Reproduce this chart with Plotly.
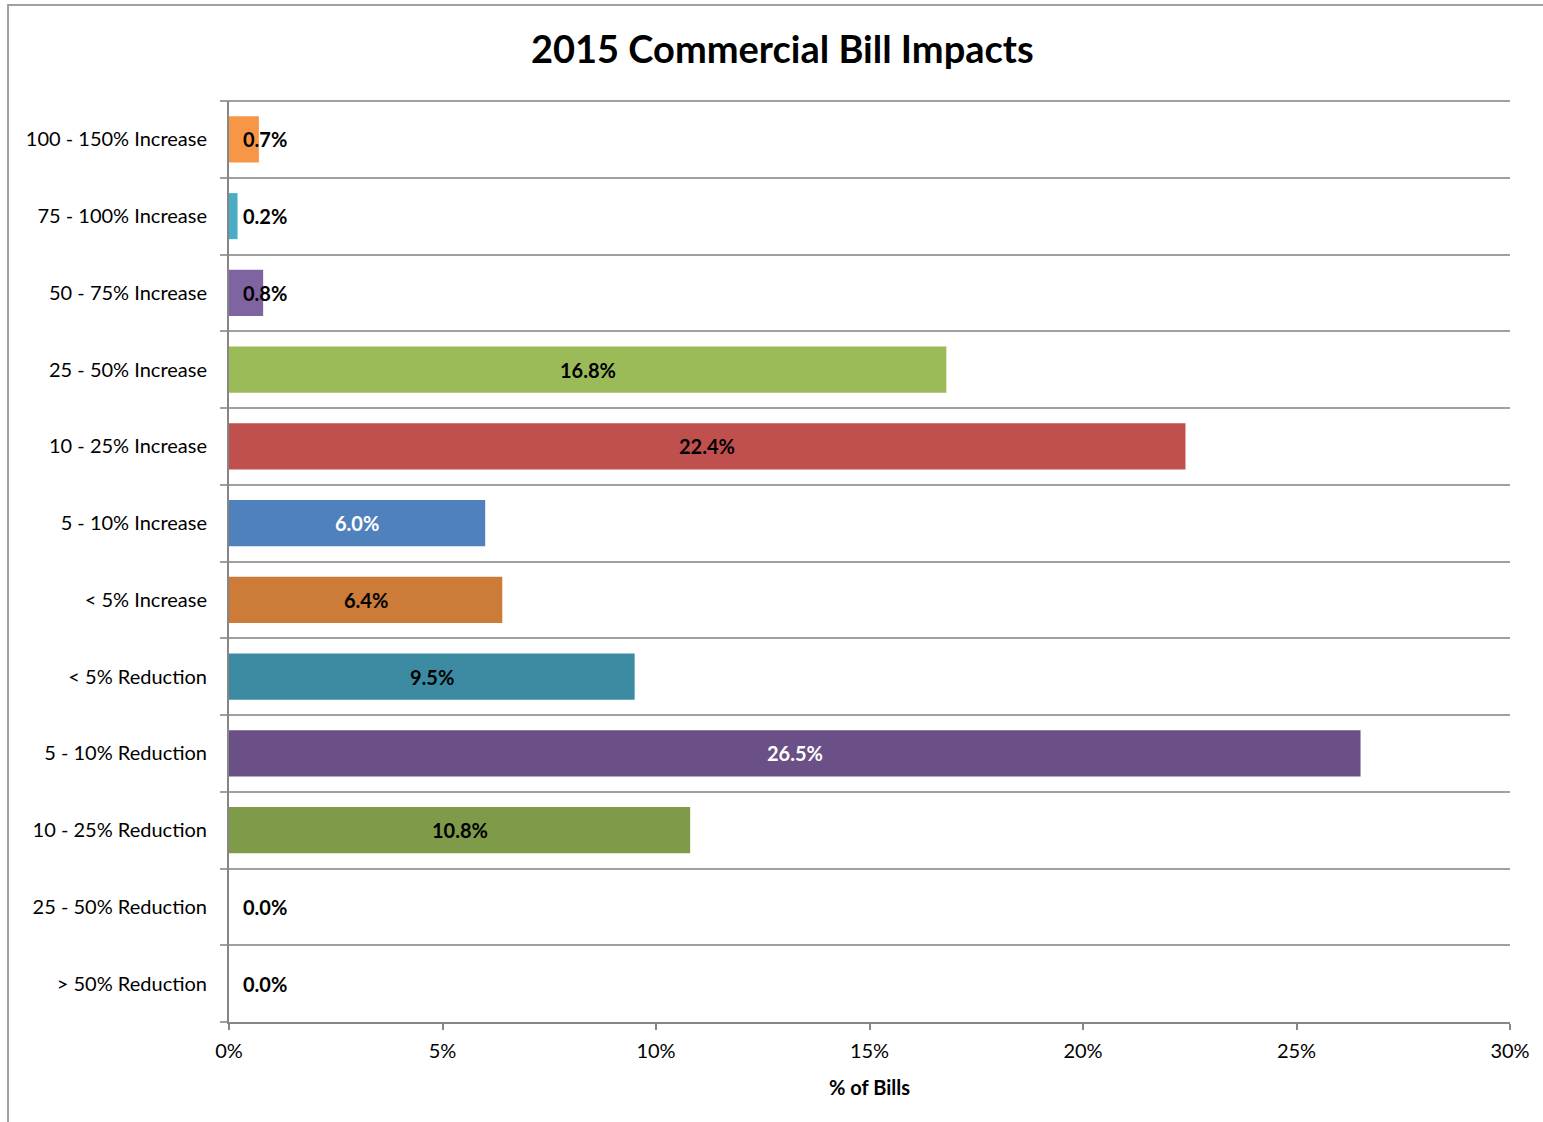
import plotly.graph_objects as go

# Share of commercial bills by 2015 bill-impact band (bottom to top)
categories = [
    "> 50% Reduction",
    "25 - 50% Reduction",
    "10 - 25% Reduction",
    "5 - 10% Reduction",
    "< 5% Reduction",
    "< 5% Increase",
    "5 - 10% Increase",
    "10 - 25% Increase",
    "25 - 50% Increase",
    "50 - 75% Increase",
    "75 - 100% Increase",
    "100 - 150% Increase",
]
pct_of_bills = [0.0, 0.0, 10.8, 26.5, 9.5, 6.4, 6.0, 22.4, 16.8, 0.8, 0.2, 0.7]

bar_colors = [
    "#F79646", "#4BACC6", "#7F9A48", "#6A5086", "#3D8BA3", "#CC7B38",
    "#4F81BD", "#C0504D", "#9BBB59", "#8064A2", "#4BACC6", "#F79646",
]
label_colors = [
    "black", "black", "black", "white", "black", "black",
    "white", "black", "black", "black", "black", "black",
]

x_ticks = [0, 5, 10, 15, 20, 25, 30]

FONT = "Lato"
GRID = "#A0A0A0"
AXIS = "#868686"

positions = list(range(len(categories)))

fig = go.Figure(
    go.Bar(
        x=pct_of_bills,
        y=positions,
        orientation="h",
        width=0.6,
        marker=dict(color=bar_colors, line=dict(width=0)),
        hoverinfo="skip",
    )
)

# Value labels: centred in wide bars, set just right of the axis for narrow ones
annotations = []
for pos, val, col in zip(positions, pct_of_bills, label_colors):
    if val >= 2:
        annotations.append(dict(x=val / 2, y=pos, xanchor="center"))
    else:
        annotations.append(dict(x=0, y=pos, xanchor="left", xshift=12))
    annotations[-1].update(
        text=f"<b>{val:.1f}%</b>",
        xref="x", yref="y", showarrow=False, yanchor="middle",
        font=dict(family=FONT, size=20, color=col),
    )

fig.update_layout(
    width=1543,
    height=1122,
    margin=dict(l=229, r=33, t=101, b=100),
    paper_bgcolor="white",
    plot_bgcolor="white",
    showlegend=False,
    bargap=0.4,
    title=dict(
        text="<b>2015 Commercial Bill Impacts</b>",
        x=0.507, xanchor="center", y=0.956, yanchor="middle",
        font=dict(family=FONT, size=38, color="black"),
    ),
    font=dict(family=FONT, color="black"),
    annotations=annotations,
    shapes=[
        # outer chart border
        dict(
            type="rect", xref="paper", yref="paper",
            x0=-0.1725, x1=1.2, y0=-0.2, y1=1.1042,
            line=dict(color=GRID, width=2), fillcolor="rgba(0,0,0,0)",
            layer="below",
        ),
        # top category boundary line
        dict(
            type="line", xref="paper", yref="paper",
            x0=-7 / 1281, x1=1, y0=1, y1=1,
            line=dict(color=GRID, width=2),
            layer="below",
        ),
    ],
)

fig.update_xaxes(
    range=[0, 30],
    tickvals=x_ticks,
    ticktext=[f"{t}%" for t in x_ticks],
    ticks="outside",
    ticklen=6,
    tickwidth=2,
    tickcolor=AXIS,
    ticklabelstandoff=4,
    showline=True,
    linecolor=AXIS,
    linewidth=2,
    showgrid=False,
    zeroline=False,
    tickfont=dict(family=FONT, size=20, color="black"),
    title=dict(
        text="<b>% of Bills</b>",
        font=dict(family=FONT, size=20, color="black"),
        standoff=20,
    ),
    fixedrange=True,
)

fig.update_yaxes(
    range=[-0.5, 11.5],
    tickvals=positions,
    ticktext=categories,
    ticks="",
    ticklabelstandoff=16,
    showline=True,
    linecolor=AXIS,
    linewidth=2,
    showgrid=False,
    zeroline=False,
    tickfont=dict(family=FONT, size=20, color="black"),
    minor=dict(
        tickmode="linear", tick0=0.5, dtick=1,
        ticks="outside", ticklen=7, tickwidth=2, tickcolor=GRID,
        showgrid=True, gridcolor=GRID, gridwidth=2,
    ),
    fixedrange=True,
)

fig.write_html("out.html")
